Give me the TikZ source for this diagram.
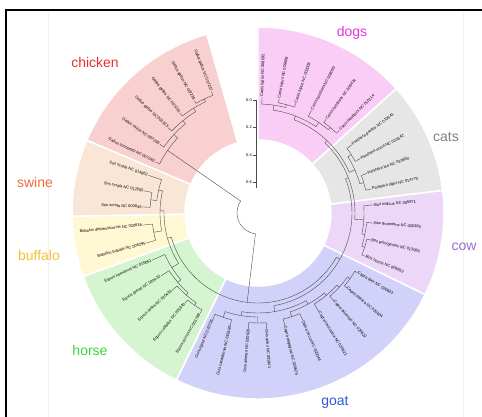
\documentclass[tikz,border=0pt]{standalone}
\usepackage{fontspec}
\setmainfont{Liberation Sans}

\definecolor{chickenfill}{HTML}{F9D0D0}
\definecolor{swinefill}{HTML}{F9E6D6}
\definecolor{buffalofill}{HTML}{FFF8D3}
\definecolor{horsefill}{HTML}{D5F5D0}
\definecolor{goatfill}{HTML}{D1D1F9}
\definecolor{cowfill}{HTML}{ECD7F8}
\definecolor{catsfill}{HTML}{E6E6E6}
\definecolor{dogsfill}{HTML}{F9CDF6}
\definecolor{chickentext}{HTML}{E5302C}
\definecolor{swinetext}{HTML}{F26A3C}
\definecolor{buffalotext}{HTML}{F2C233}
\definecolor{horsetext}{HTML}{3CD43C}
\definecolor{goattext}{HTML}{2F58D6}
\definecolor{cowtext}{HTML}{9A6CC9}
\definecolor{catstext}{HTML}{808080}
\definecolor{dogstext}{HTML}{E034E0}

\tikzset{
  branch/.style={draw=black!70, line width=0.4pt},
  leafR/.style={anchor=west, inner sep=0.4pt, font=\fontsize{4}{4}\selectfont},
  leafL/.style={anchor=east, inner sep=0.4pt, font=\fontsize{4}{4}\selectfont},
  ticklabel/.style={inner sep=1pt, font=\fontsize{4}{4}\selectfont},
  grouplabel/.style={font=\fontsize{14}{16}\selectfont},
  ringedge/.style={draw=white, line width=1.5pt}
}

% annular sector of the ring: start angle, end angle, colour
\newcommand{\ringpart}[3]{\filldraw[fill=#3, ringedge] (#1:73) -- (#1:186)
  arc[start angle=#1, end angle=#2, radius=186] -- (#2:73)
  arc[start angle=#2, end angle=#1, radius=73] -- cycle;}
% tree pieces: arc at radius r between two angles, radial stem
\newcommand{\treearc}[3]{\draw[branch] (#2:#1) arc[start angle=#2, end angle=#3, radius=#1];}
\newcommand{\treestem}[3]{\draw[branch] (#1:#2) -- (#1:#3);}

\begin{document}
\begin{tikzpicture}[x=1pt,y=1pt]
\useasboundingbox (-258,-204) rectangle (224,213);

% frame
\draw[black!6] (-210,203) -- (-210,-204);
\draw[black!6] (205,203) -- (205,-204);
\draw[line width=2pt] (-252,-205) -- (-252,203) -- (225,203);

% coloured ring
\ringpart{106}{157}{chickenfill}
\ringpart{157}{181}{swinefill}
\ringpart{181}{200}{buffalofill}
\ringpart{200}{244}{horsefill}
\ringpart{-116}{-26}{goatfill}
\ringpart{-26}{7}{cowfill}
\ringpart{7}{42}{catsfill}
\ringpart{42}{90}{dogsfill}

% group names
\node[grouplabel, text=chickentext] (lbchicken) at (-163,150) {chicken};
\node[grouplabel, text=dogstext] (lbdogs) at (94,180) {dogs};
\node[grouplabel, text=catstext] (lbcats) at (188,76) {cats};
\node[grouplabel, text=cowtext] (lbcow) at (206,-34) {cow};
\node[grouplabel, text=goattext] (lbgoat) at (77,-189) {goat};
\node[grouplabel, text=horsetext] (lbhorse) at (-168,-137) {horse};
\node[grouplabel, text=buffalotext] (lbbuffalo) at (-219,-42) {buffalo};
\node[grouplabel, text=swinetext] (lbswine) at (-223,31) {swine};

% scale bar
\draw[branch] (-2,113) -- (-2,25);
\foreach \v/\y [count=\i] in {0.0/113, 0.2/86, 0.4/58, 0.6/31}
  \draw[branch] (-2,\y) -- (-5,\y) node[left, ticklabel] (tk\i) {\v};

% tree: root and internal arcs
\treearc{21}{145.3}{263.05}
\treestem{145.3}{21}{110}
\treestem{-96.95}{21}{90}
\foreach \r/\a/\b in {110/137/153.5, 115/129.1/145, 119/121.6/136.5, 123/115.25/128,
  126/111/119.5, 90/-164.4/-29.5, 94/-181.25/-147.6, 98/-193/-169.5, 102/-199/-187,
  108/-191/-183, 106/-174/-165, 102/-156/-139.1, 106/-147/-131.25, 109/-138/-124.5,
  112/-129/-120, 94/-80.3/21.35, 100/-99.35/-61.2, 104/-108.45/-90.25, 110/-113/-103.9,
  110/-94.8/-85.7, 104/-72/-50.35, 109/-76.6/-67.4, 107/-58.3/-42.4, 110/-49.2/-35.55,
  113/-40.1/-31, 97/-3.7/46.4, 106/4/-11.4, 109/-5/-17.75, 112/-13.5/-22,
  100/24/68.85, 106/16/32, 110/28/36, 110/12/20, 104/56.1/81.6, 109/75.25/88,
  112/71/79.5, 109/49.75/62.5, 112/45.5/54}
  \treearc{\r}{\a}{\b};
\foreach \a/\r/\s in {137/110/115, 129.1/115/119, 121.6/119/123, 115.25/123/126,
  -164.4/90/94, -181.25/94/98, -193/98/102, -187/102/108, -169.5/98/106,
  -147.6/94/102, -139.1/102/106, -131.25/106/109, -124.5/109/112,
  -29.5/90/94, -80.3/94/100, -99.35/100/104, -108.45/104/110, -90.25/104/110,
  -61.2/100/104, -72/104/109, -50.35/104/107, -42.4/107/110, -35.55/110/113,
  21.35/94/97, -3.7/97/106, -11.4/106/109, -17.75/109/112, 46.4/97/100,
  24/100/106, 32/106/110, 16/106/110, 68.85/100/104, 81.6/104/109,
  75.25/109/112, 56.1/104/109, 49.75/109/112}
  \treestem{\a}{\r}{\s};

% leaves
\foreach \a/\p/\t [count=\i] in {88/109/{Canis lupus NC 008092}, 79.5/112/{Canis lupus NC 009686},
  71/112/{Canis lupus NC 002008}, 62.5/109/{Canis familiaris NC 008093},
  54/112/{Canis familiaris NC 008434}, 45.5/112/{Canis familiaris NC 010214}}
  {\node[leafR, rotate=\a] (dog\i) at (\a:116) {\t}; \draw[branch] (\a:\p) -- (dog\i);}
\foreach \a/\p/\t [count=\i] in {36/110/{Panthera pardus NC 010641}, 28/110/{Panthera uncia NC 010642},
  20/110/{Panthera leo NC 010650}, 12/110/{Panthera tigris NC 014770}}
  {\node[leafR, rotate=\a] (cat\i) at (\a:116) {\t}; \draw[branch] (\a:\p) -- (cat\i);}
\foreach \a/\p/\t [count=\i] in {4/106/{Bos indicus NC 005971}, -5/109/{Bos grunniens NC 006380},
  -13.5/112/{Bos primigenius NC 013996}, -22/112/{Bos taurus NC 006853}}
  {\node[leafR, rotate=\a] (cow\i) at (\a:116) {\t}; \draw[branch] (\a:\p) -- (cow\i);}
\foreach \a/\p/\t [count=\i] in {-31/113/{Capra ibex NC 020623}, -40.1/113/{Capra sibirica NC 020624},
  -49.2/110/{Capra falconeri NC 020622}, -58.3/107/{Capra caucasica NC 020621},
  -67.4/109/{Capra hircus NC 005044}, -76.6/109/{Capra aegagrus NC 020625},
  -85.7/110/{Ovis aries NC 001941}}
  {\node[leafR, rotate=\a] (goat\i) at (\a:116) {\t}; \draw[branch] (\a:\p) -- (goat\i);}
\foreach \a/\p/\t [count=\i] in {-94.8/110/{Ovis ammon NC 020626}, -103.9/110/{Ovis canadensis NC 015889},
  -113/110/{Ovis vignei NC 020735}}
  {\node[leafL, rotate=\a+180] (sheep\i) at (\a:116) {\t}; \draw[branch] (\a:\p) -- (sheep\i);}
\foreach \a/\p/\t [count=\i] in {-120/112/{Equus asinus NC 001788}, -129/112/{Equus caballus NC 001640},
  -138/109/{Equus zebra NC 020433}, -147/106/{Equus grevyi NC 020432},
  -156/102/{Equus hemionus NC 016061}}
  {\node[leafL, rotate=\a+180] (horse\i) at (\a:116) {\t}; \draw[branch] (\a:\p) -- (horse\i);}
\foreach \a/\p/\t [count=\i] in {-165/106/{Bubalus bubalis NC 006295}, -174/106/{Bubalus depressicornis NC 020616}}
  {\node[leafL, rotate=\a+180] (buf\i) at (\a:116) {\t}; \draw[branch] (\a:\p) -- (buf\i);}
\foreach \a/\p/\t [count=\i] in {-183/108/{Sus scrofa NC 000845}, -191/108/{Sus scrofa NC 012095},
  -199/102/{Sus scrofa NC 014862}}
  {\node[leafL, rotate=\a+180] (pig\i) at (\a:116) {\t}; \draw[branch] (\a:\p) -- (pig\i);}
\foreach \a/\p/\q/\t [count=\i] in {111/126/130/{Gallus gallus NC 007237}, 119.5/126/129/{Gallus gallus NC 007236},
  128/123/127/{Gallus gallus NC 007235}, 136.5/119/124/{Gallus gallus NC 001323},
  145/115/120/{Gallus varius NC 007239}, 153.5/110/115/{Gallus sonneratii NC 007240}}
  {\node[leafL, rotate=\a+180] (hen\i) at (\a:\q) {\t}; \draw[branch] (\a:\p) -- (hen\i);}
\end{tikzpicture}
\end{document}
